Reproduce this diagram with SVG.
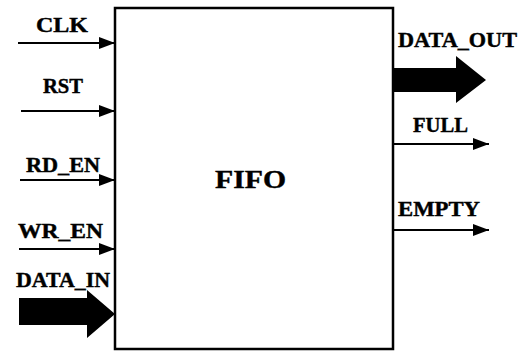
<svg xmlns="http://www.w3.org/2000/svg" width="521" height="352" viewBox="0 0 521 352">
<defs>
<style>
.lbl{font-family:"Liberation Serif","Times New Roman",serif;font-weight:bold;font-size:20px;fill:#000;stroke:#000;stroke-width:0.4}
.big{font-size:25px}
.wire{stroke:#000;stroke-width:2;fill:none}
</style>
<marker id="ah" markerUnits="userSpaceOnUse" markerWidth="16" markerHeight="12" refX="16" refY="6" orient="auto">
<path d="M0,0 L16,6 L0,12 Z" fill="#000"/>
</marker>
</defs>
<rect width="521" height="352" fill="#fff"/>
<g id="fifo">
<rect x="115" y="8" width="278" height="341" fill="#fff" stroke="#000" stroke-width="2.5"/>
<text class="lbl big" x="215" y="188" textLength="71" lengthAdjust="spacingAndGlyphs">FIFO</text>
</g>
<g id="labels">
<text class="lbl" x="36" y="32" textLength="52" lengthAdjust="spacingAndGlyphs">CLK</text>
<text class="lbl" x="43" y="93" textLength="40" lengthAdjust="spacingAndGlyphs">RST</text>
<text class="lbl" x="26" y="172" textLength="74" lengthAdjust="spacingAndGlyphs">RD_EN</text>
<text class="lbl" x="18" y="238" textLength="85" lengthAdjust="spacingAndGlyphs">WR_EN</text>
<text class="lbl" x="16" y="287" textLength="94" lengthAdjust="spacingAndGlyphs">DATA_IN</text>
<text class="lbl" x="398" y="47" textLength="119" lengthAdjust="spacingAndGlyphs">DATA_OUT</text>
<text class="lbl" x="413" y="132" textLength="55" lengthAdjust="spacingAndGlyphs">FULL</text>
<text class="lbl" x="398" y="216" textLength="82" lengthAdjust="spacingAndGlyphs">EMPTY</text>
</g>
<g id="connectors">
<line class="wire" x1="18" y1="43" x2="115" y2="43" marker-end="url(#ah)"/>
<line class="wire" x1="21" y1="111" x2="115" y2="111" marker-end="url(#ah)"/>
<line class="wire" x1="20" y1="180" x2="115" y2="180" marker-end="url(#ah)"/>
<line class="wire" x1="19" y1="249" x2="115" y2="249" marker-end="url(#ah)"/>
<path d="M19,298 L87,298 L87,290 L115,314 L87,338 L87,325 L19,325 Z" fill="#000"/>
<path d="M393,68 L456,68 L456,56 L486,80 L456,103 L456,92 L393,92 Z" fill="#000"/>
<line class="wire" x1="393" y1="144" x2="489" y2="144" marker-end="url(#ah)"/>
<line class="wire" x1="393" y1="230" x2="489" y2="230" marker-end="url(#ah)"/>
</g>
</svg>
